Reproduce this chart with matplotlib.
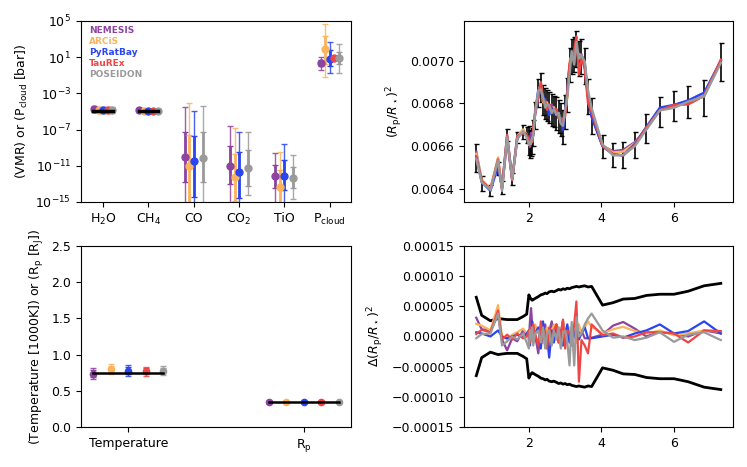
import matplotlib
matplotlib.use('Agg')
import matplotlib.pyplot as plt
import numpy as np
from matplotlib.ticker import FuncFormatter, FormatStrFormatter, NullLocator

# retrieval codes
models = ['NEMESIS', 'ARCiS', 'PyRatBay', 'TauREx', 'POSEIDON']
colors = ['#8c44a0', '#fbb45c', '#2a45f0', '#ee4545', '#9a9a9a']
offsets = [-0.2, -0.1, 0.0, 0.1, 0.2]

# CHEMISTRY / CLOUD (log10 values)___________________________________________________________________________________
chem_labels = ['H$_2$O', 'CH$_4$', 'CO', 'CO$_2$', 'TiO', 'P$_{\\rm cloud}$']
chem_truth = [-5.0, -5.0]          # true VMR for H2O and CH4
nan = np.nan
chem_med = [[-4.75, -4.88, -10.0, -11.0, -12.1, 0.4],
            [-4.8, -4.9, -11.0, -12.2, -13.3, 1.94],
            [-4.8, -4.9, -10.5, -11.7, -12.1, 0.84],
            [-4.85, -4.9, nan, nan, nan, 0.95],
            [-4.8, -4.9, -10.1, -11.2, -12.35, 0.9]]
chem_lo1 = [[-4.95, -4.98, -12.8, -13.05, -13.45, 0.05],
            [-4.98, -4.98, -16.0, -14.9, -16.0, 0.29],
            [-4.98, -4.98, -14.4, -14.6, -13.7, 0.0],
            [-5.0, -4.98, nan, nan, nan, 0.9],
            [-4.98, -4.98, -12.8, -13.2, -13.5, 0.2]]
chem_hi1 = [[-4.55, -4.8, -7.3, -8.8, -10.9, 0.65],
            [-4.62, -4.82, -7.6, -9.7, -11.5, 3.34],
            [-4.62, -4.82, -7.7, -9.5, -10.4, 1.76],
            [-4.7, -4.82, nan, nan, nan, 1.0],
            [-4.62, -4.82, -7.3, -9.3, -11.1, 1.6]]
chem_lo2 = [[-5.1, -5.06, -16.5, -16.0, -15.2, -0.45],
            [-5.12, -5.06, -17.0, -17.0, -17.0, -1.2],
            [-5.12, -5.06, -17.0, -17.0, -15.1, -0.8],
            [-5.15, -5.06, nan, nan, nan, 0.85],
            [-5.12, -5.06, -16.5, -14.2, -14.7, -0.7]]
chem_hi2 = [[-4.4, -4.72, -4.5, -6.6, -9.6, 1.0],
            [-4.48, -4.74, -4.06, -6.8, -9.5, 4.7],
            [-4.48, -4.74, -4.9, -7.3, -8.6, 2.68],
            [-4.55, -4.74, nan, nan, nan, 1.05],
            [-4.48, -4.74, -4.4, -7.3, -9.8, 2.4]]

# TEMPERATURE / RADIUS________________________________________________________________________________________________
bulk_labels = ['Temperature', 'R$_{\\rm p}$']
bulk_truth = [0.75, 0.35]
bulk_med = [[0.737, 0.35], [0.795, 0.35], [0.78, 0.35], [0.77, 0.35], [0.78, 0.35]]
bulk_err1 = [[0.045, 0.004], [0.045, 0.004], [0.045, 0.004], [0.04, 0.004], [0.04, 0.004]]
bulk_err2 = [[0.08, 0.007], [0.07, 0.007], [0.07, 0.007], [0.065, 0.007], [0.065, 0.007]]

# SPECTRUM_____________________________________________________________________________________________________________
wl = [0.55, 0.70, 0.94, 1.15, 1.26, 1.40, 1.54, 1.68, 1.84, 1.94,
      2.00, 2.03, 2.06, 2.09, 2.12, 2.17, 2.26, 2.33, 2.39, 2.45,
      2.50, 2.56, 2.63, 2.69, 2.76, 2.82, 2.88, 2.94, 3.00, 3.06,
      3.12, 3.18, 3.25, 3.31, 3.38, 3.45, 3.54, 3.63, 3.73, 4.03,
      4.32, 4.60, 4.92, 5.24, 5.61, 6.00, 6.39, 6.83, 7.29]
depth = [0.006543, 0.006426, 0.006390, 0.006495, 0.006405, 0.006650, 0.006445, 0.006640, 0.006665, 0.006650,
         0.006625, 0.006610, 0.006615, 0.006625, 0.006660, 0.006745, 0.006850, 0.006875, 0.006815, 0.006800,
         0.006790, 0.006780, 0.006770, 0.006762, 0.006752, 0.006740, 0.006725, 0.006690, 0.006760, 0.006840,
         0.006980, 0.007020, 0.007030, 0.007055, 0.007010, 0.007020, 0.006975, 0.006830, 0.006740, 0.006598,
         0.006558, 0.006558, 0.006605, 0.006680, 0.006760, 0.006788, 0.006805, 0.006825, 0.006995]
sigma = [6.5, 3.5, 2.6, 3.0, 2.9, 2.8, 2.8, 2.8, 3.3, 3.7,
         6.9, 6.5, 6.2, 6.0, 6.1, 6.3, 6.6, 6.9, 7.0, 7.2,
         7.1, 7.4, 7.5, 7.4, 7.6, 7.8, 7.7, 7.9, 7.8, 8.0,
         7.9, 8.1, 8.2, 8.3, 8.2, 8.3, 8.4, 8.2, 8.3, 5.2,
         5.6, 6.2, 6.3, 6.8, 7.0, 7.0, 7.5, 8.4, 8.8]   # x1e-5

# residuals model - truth, x1e-5
res_nemesis = [3.1, 1.2, 1.0, 3.5, -0.5, -2.3, -0.3, -0.8, 1.0, 0.3,
               -0.5, 2.5, 4.7, 2.0, -1.0, 0.3, -2.8, 1.5, -1.0, 2.0,
               -1.5, 0.8, 2.5, -0.5, 1.0, -1.0, 0.5, 2.6, -0.5, 1.5,
               -0.8, 1.0, 0.5, -1.0, 0.5, 1.0, -0.3, -0.3, -0.2, 0.3,
               1.8, 2.4, 1.3, 0.0, 0.8, 0.4, 0.0, 1.0, 0.5]
res_arcis = [2.1, 1.8, 1.0, 5.2, 0.0, -0.5, 0.3, 0.7, 1.3, 0.5,
             -1.0, 0.5, 1.5, -0.5, 1.0, 2.0, 0.5, 1.8, -1.0, 0.5,
             1.5, -1.2, 0.8, 2.0, -0.5, 1.5, -1.5, 2.5, 0.0, -1.0,
             1.5, 0.5, 1.0, -1.0, 2.0, 0.5, 1.5, 2.5, 1.6, 0.5,
             1.2, 1.6, 0.9, 0.5, 1.0, 0.2, 0.5, 1.0, 0.8]
res_pyratbay = [0.7, 0.5, 0.0, 1.0, 0.0, -0.3, 0.0, 0.3, -0.2, 0.5,
                1.0, -1.5, 0.5, 2.5, -1.0, 0.5, 1.5, -2.0, 2.5, -1.0,
                0.0, -3.5, 1.0, -1.0, 2.0, -0.5, 1.0, -1.5, 0.5, 2.0,
                -1.0, 1.0, 0.0, 1.5, -0.5, 0.5, 1.5, -0.3, -0.3, 0.0,
                0.3, -0.2, 0.5, 1.0, 2.0, 0.5, 0.9, 2.5, 0.5]
res_taurex = [0.4, 1.1, 0.7, 4.3, -0.5, 0.3, -0.5, 0.5, -0.3, 0.0,
              1.0, -1.0, 1.5, -0.5, 2.0, 0.5, -1.5, 2.5, -0.5, 1.0,
              -2.0, 1.5, -0.5, 1.0, 2.0, -1.0, 0.5, 2.8, -2.0, 1.0,
              0.5, -1.5, 2.0, 5.8, -7.5, -0.6, -1.5, -2.8, 2.0, 0.2,
              0.5, -0.2, 0.0, 0.7, 0.7, 0.5, -1.0, 1.0, 0.9]
res_poseidon = [-0.3, 0.4, 0.5, 3.8, -1.5, -0.8, 0.0, -0.5, 0.5, -1.0,
                -2.0, 1.0, -0.5, 1.5, -1.5, 0.5, 1.0, -1.0, 1.5, -2.0,
                0.5, 1.0, -1.5, 1.0, -0.5, 1.5, -2.0, 0.5, 1.0, -1.0,
                -4.8, 2.4, -4.8, 3.2, 0.0, 0.5, 2.0, 3.0, 3.8, 1.0,
                -0.2, 0.0, -0.6, -0.2, 0.7, -0.9, 0.3, 0.7, -0.6]
residuals = [res_nemesis, res_arcis, res_pyratbay, res_taurex, res_poseidon]

#_______________________________________________________________________________________________________________________

plt.rcParams['font.size'] = 9

fig = plt.figure(figsize=(7.47, 4.67), dpi=100)
ax_chem = fig.add_axes([0.1084, 0.5675, 0.3614, 0.3876])
ax_spec = fig.add_axes([0.6212, 0.5675, 0.3601, 0.3876])
ax_bulk = fig.add_axes([0.1084, 0.0857, 0.3614, 0.3876])
ax_res = fig.add_axes([0.6212, 0.0857, 0.3601, 0.3876])


def draw_points(ax, x, med, lo1, hi1, lo2, hi2, c, ms=4.5):
    x = np.asarray(x); med = np.asarray(med)
    lo1 = np.asarray(lo1); hi1 = np.asarray(hi1)
    lo2 = np.asarray(lo2); hi2 = np.asarray(hi2)
    ok = ~np.isnan(med)
    ax.errorbar(x[ok], med[ok], yerr=[med[ok] - lo2[ok], hi2[ok] - med[ok]], fmt='none',
                ecolor=c, elinewidth=1, capsize=2, alpha=0.85)
    ax.errorbar(x[ok], med[ok], yerr=[med[ok] - lo1[ok], hi1[ok] - med[ok]], fmt='o',
                color=c, ms=ms, elinewidth=2, capsize=2.5, capthick=1)


# top left: chemistry
xc = np.arange(len(chem_labels))
for i in range(len(models)):
    m = 10 ** np.array(chem_med[i])
    draw_points(ax_chem, xc + offsets[i], m, 10 ** np.array(chem_lo1[i]), 10 ** np.array(chem_hi1[i]),
                10 ** np.array(chem_lo2[i]), 10 ** np.array(chem_hi2[i]), colors[i], ms=5)
for j, t in enumerate(chem_truth):
    ax_chem.plot([xc[j] - 0.22, xc[j] + 0.22], [10 ** t, 10 ** t], color='black', lw=2.5, zorder=5)
ax_chem.set_yscale('log')
ax_chem.set_ylim(1e-15, 1e5)
ax_chem.set_yticks([1e-15, 1e-11, 1e-7, 1e-3, 1e1, 1e5])
ax_chem.yaxis.set_minor_locator(NullLocator())
ax_chem.set_xticks(xc)
ax_chem.set_xticklabels(chem_labels)
ax_chem.set_ylabel('(VMR) or (P$_{\\rm cloud}$ [bar])')
for i in range(len(models)):
    ax_chem.text(0.03, 0.945 - i * 0.06, models[i], transform=ax_chem.transAxes, color=colors[i],
                 fontsize=6.5, weight='bold', va='center')

# top right: spectrum
wl_a = np.array(wl)
depth_a = np.array(depth)
sig_a = np.array(sigma) * 1e-5
ax_spec.errorbar(wl_a, depth_a, yerr=sig_a, fmt='none', ecolor='black', elinewidth=1.2, capsize=1.8)
for i in range(len(models)):
    ax_spec.plot(wl_a, depth_a + np.array(residuals[i]) * 1e-5, color=colors[i], lw=1.7)
ax_spec.set_ylim(0.006338, 0.007186)
ax_spec.set_yticks([0.0064, 0.0066, 0.0068, 0.0070])
ax_spec.yaxis.set_major_formatter(FormatStrFormatter('%.4f'))
ax_spec.set_xticks([2, 4, 6])
ax_spec.set_ylabel('$(R_{\\rm p}/R_\\star)^2$')

# bottom left: temperature and radius
xb = np.arange(len(bulk_labels))
for i in range(len(models)):
    m = np.array(bulk_med[i]); e1 = np.array(bulk_err1[i]); e2 = np.array(bulk_err2[i])
    draw_points(ax_bulk, xb + offsets[i], m, m - e1, m + e1, m - e2, m + e2, colors[i])
for j, t in enumerate(bulk_truth):
    ax_bulk.plot([xb[j] - 0.2, xb[j] + 0.2], [t, t], color='black', lw=1.8, zorder=5)
ax_bulk.set_ylim(0, 2.5)
ax_bulk.set_yticks([0.0, 0.5, 1.0, 1.5, 2.0, 2.5])
ax_bulk.set_xticks(xb)
ax_bulk.set_xticklabels(bulk_labels)
ax_bulk.set_ylabel('(Temperature [1000K]) or (R$_{\\rm p}$ [R$_{\\rm J}$])')

# bottom right: residuals
ax_res.plot(wl_a, sig_a, color='black', lw=2)
ax_res.plot(wl_a, -sig_a, color='black', lw=2)
for i in range(len(models)):
    ax_res.plot(wl_a, np.array(residuals[i]) * 1e-5, color=colors[i], lw=1.6)
ax_res.set_ylim(-0.00015, 0.00015)
ax_res.set_yticks([-0.00015, -0.0001, -0.00005, 0, 0.00005, 0.0001, 0.00015])


def res_fmt(v, pos):
    if abs(v) < 1e-12:
        return '0.00000'
    return ('%.5f' % v).replace('-', '\u2212')


ax_res.yaxis.set_major_formatter(FuncFormatter(res_fmt))
ax_res.set_xticks([2, 4, 6])
ax_res.set_ylabel('$\\Delta(R_{\\rm p}/R_\\star)^2$')

fig.savefig('out.png', dpi=100)
